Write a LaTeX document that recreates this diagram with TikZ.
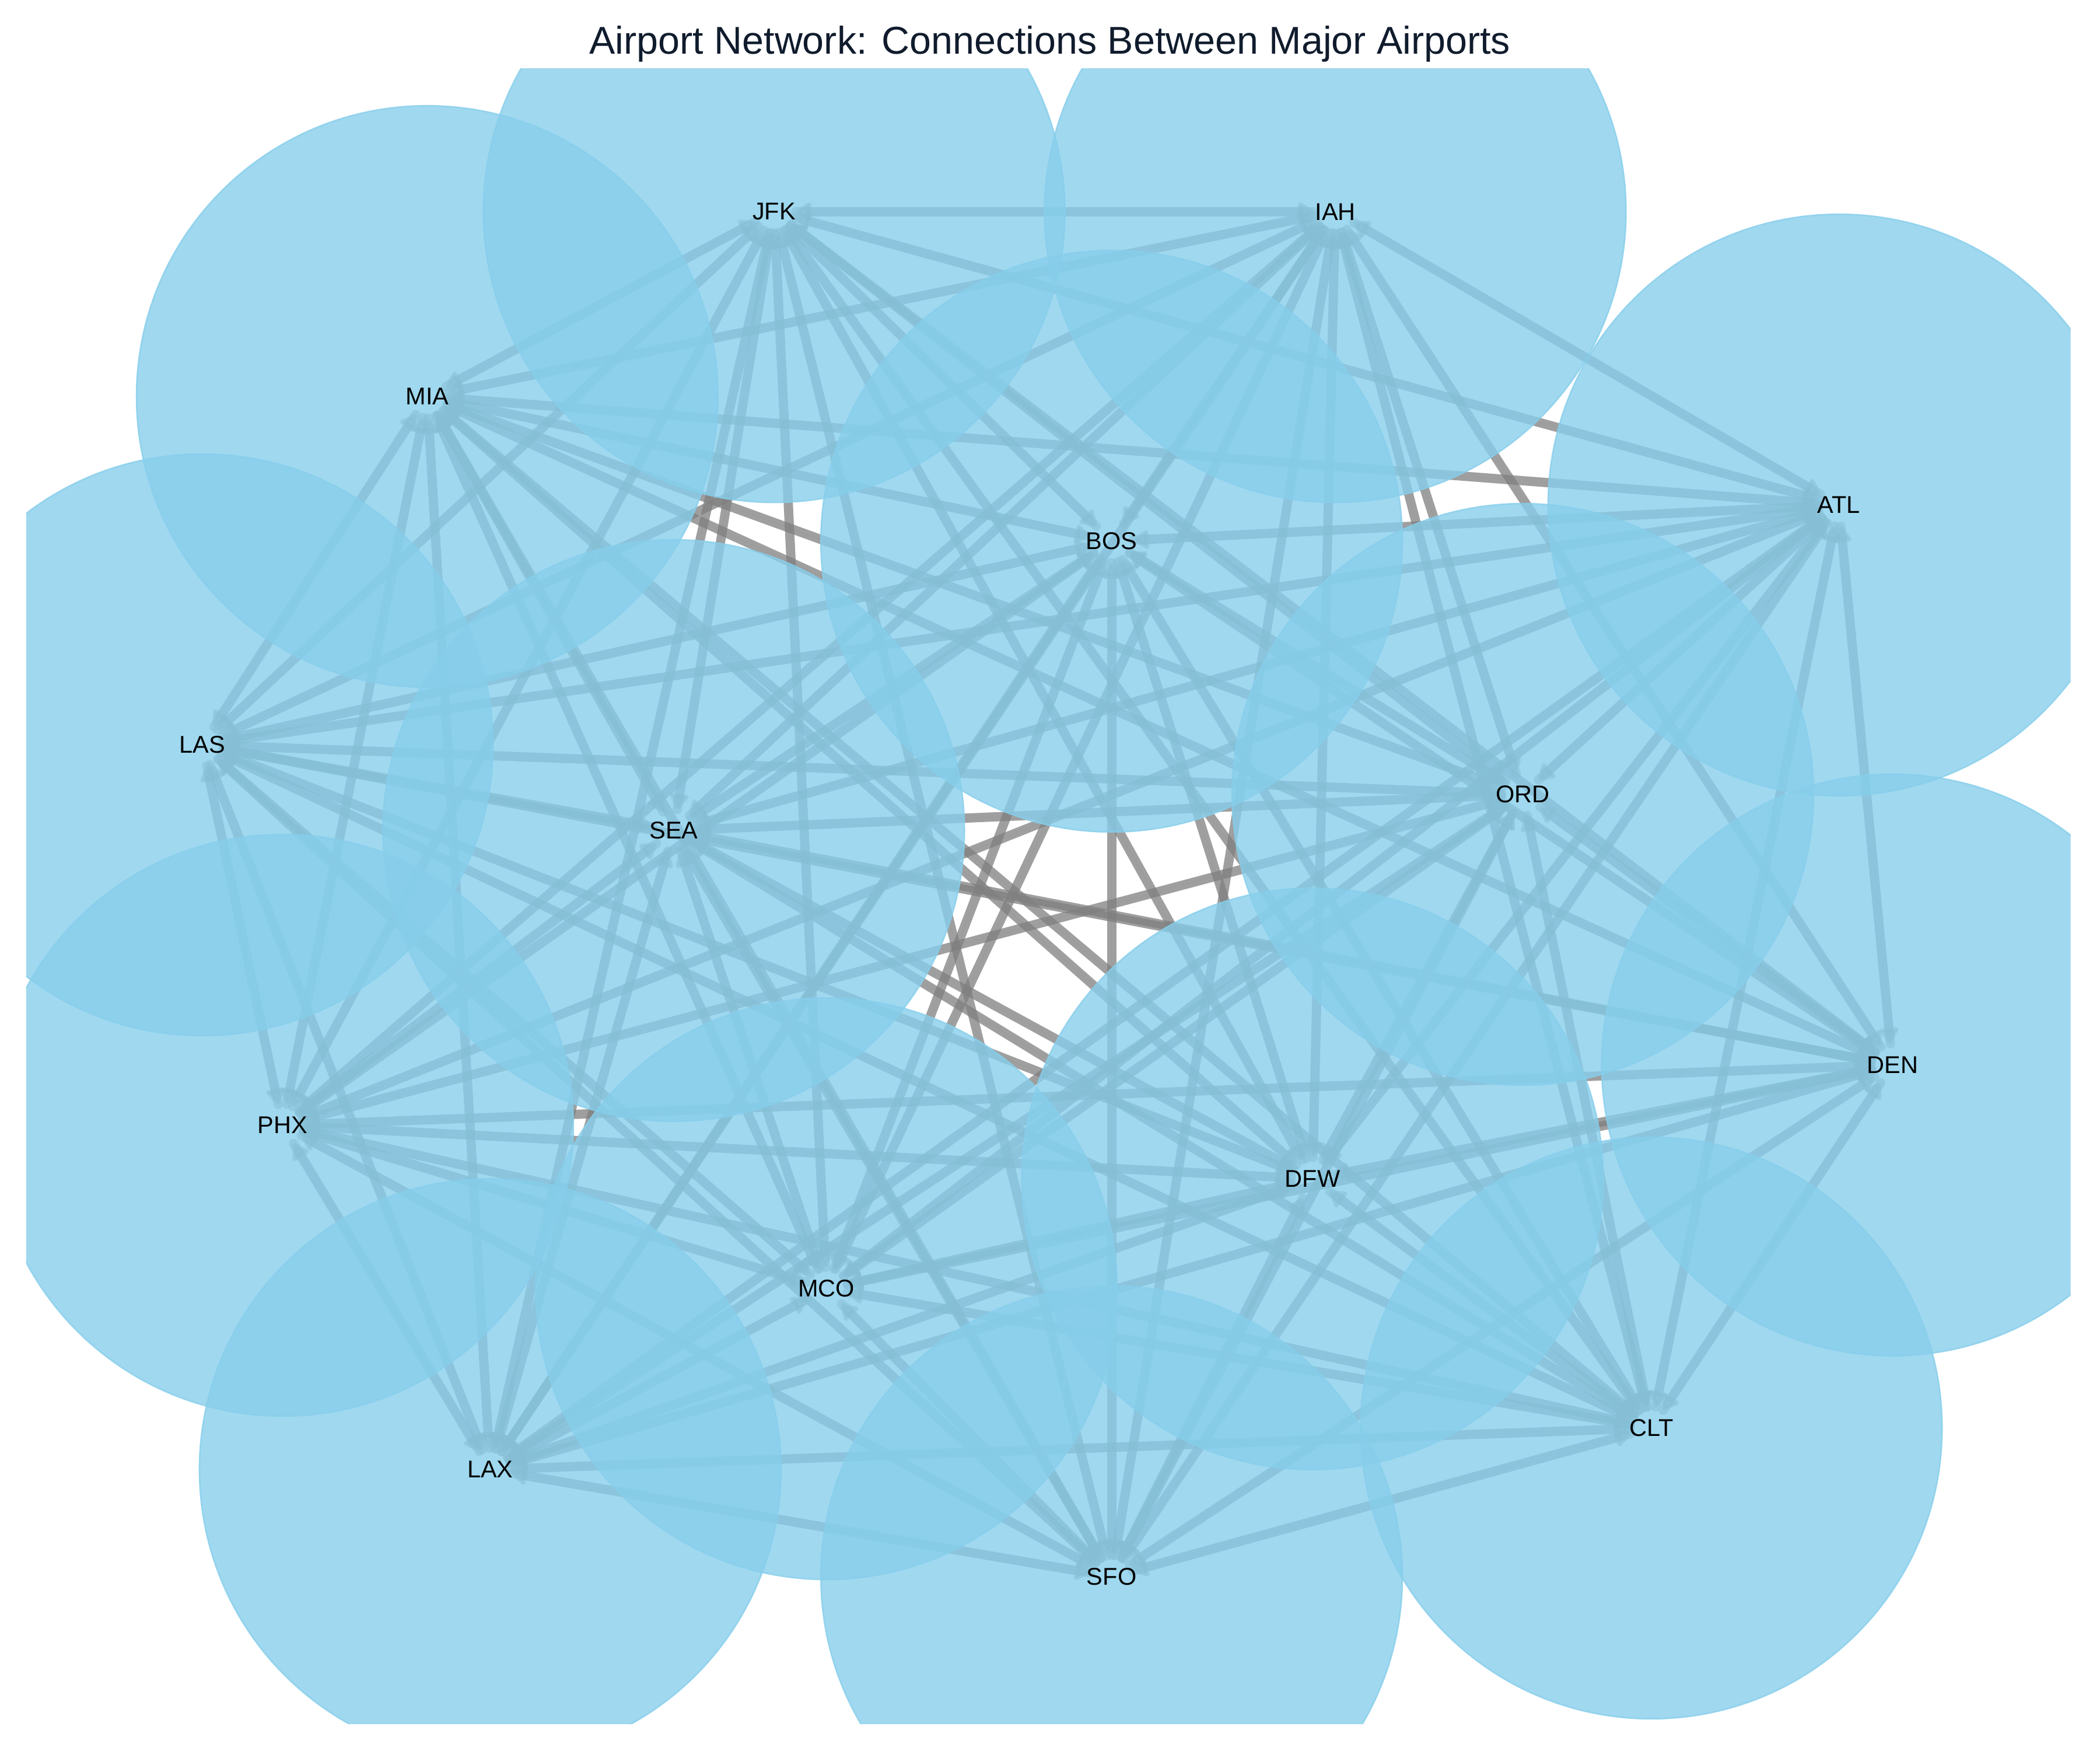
\documentclass[tikz,border=0pt]{standalone}
\usepackage{fontspec}
\setmainfont{Liberation Sans}
\usetikzlibrary{arrows.meta}
\definecolor{skyb}{HTML}{87CEEB}
\definecolor{titlec}{RGB}{16,28,45}
\pgfdeclarelayer{edgelayer}
\pgfdeclarelayer{disclayer}
\pgfsetlayers{edgelayer,disclayer,main}
\begin{document}
\begin{tikzpicture}[x=0.019439cm,y=-0.019439cm,
  hub/.style={circle,minimum size=0.62cm,inner sep=0pt,outer sep=0pt},
  lbl/.style={inner sep=0pt,font=\fontsize{10}{12}\selectfont,text=black},
  link/.style={draw=gray,fill=gray,opacity=0.5,line width=3.8pt,line cap=round,
    -{Triangle[length=7.5pt,width=8.5pt,round]}},
  disc/.style={fill=skyb,draw=skyb,fill opacity=0.8,draw opacity=0.8,line width=0.6pt}]
\useasboundingbox (0,0) rectangle (1568,1307);
\foreach \n/\x/\y in {JFK/578/158,IAH/997/158,MIA/319/296,ATL/1373/377,BOS/830/404,
  LAS/151/556,SEA/503/620,ORD/1137/593,DEN/1413/795,PHX/211/840,DFW/980/880,
  MCO/617/962,CLT/1233/1066,LAX/366/1097,SFO/830/1177}{
  \node[hub] (\n) at (\x,\y) {};
}
\begin{pgfonlayer}{edgelayer}
\foreach \a in {JFK,IAH,MIA,ATL,BOS,LAS,SEA,ORD,DEN,PHX,DFW,MCO,CLT,LAX,SFO}{
  \foreach \b in {JFK,IAH,MIA,ATL,BOS,LAS,SEA,ORD,DEN,PHX,DFW,MCO,CLT,LAX,SFO}{
    \ifx\a\b\else\draw[link] (\a) -- (\b);\fi
  }
}
\end{pgfonlayer}
\begin{pgfonlayer}{disclayer}
\begin{scope}
\clip (19.5,51) rectangle (1546,1287);
\foreach \n in {JFK,IAH,MIA,ATL,BOS,LAS,SEA,ORD,DEN,PHX,DFW,MCO,CLT,LAX,SFO}{
  \path[disc] (\n) circle[radius=4.22cm];
}
\end{scope}
\end{pgfonlayer}
\foreach \n in {JFK,IAH,MIA,ATL,BOS,LAS,SEA,ORD,DEN,PHX,DFW,MCO,CLT,LAX,SFO}{
  \node[lbl] (t\n) at (\n) {\n};
}
\node[font=\fontsize{16}{19}\selectfont,text=titlec,anchor=base,inner sep=0pt] (title) at (784,40.5) {Airport Network: Connections Between Major Airports};
\end{tikzpicture}
\end{document}
